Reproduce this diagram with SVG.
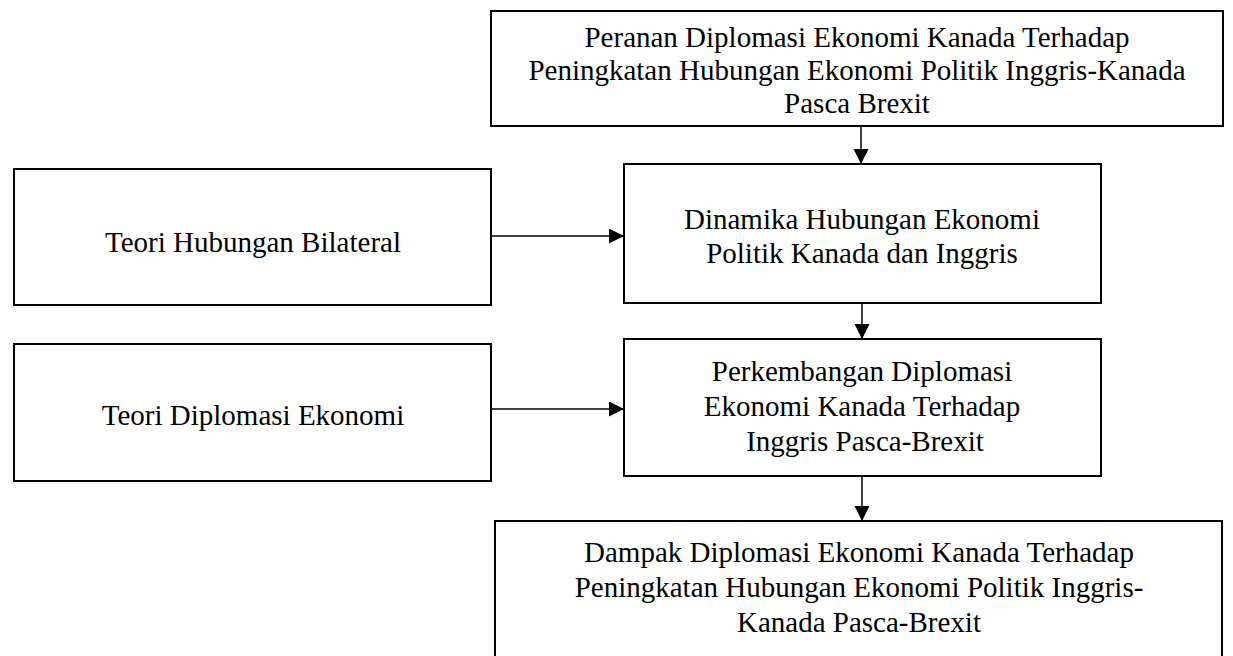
<svg xmlns="http://www.w3.org/2000/svg" width="1233" height="656" viewBox="0 0 1233 656">
<style>
.box{fill:#fff;stroke:#000;stroke-width:2}
.t{font-family:"Liberation Serif","Times New Roman",serif;font-size:29px;fill:#000;text-anchor:middle}
.c{stroke:#000;stroke-width:1.5;fill:none}
</style>
<defs>
<marker id="ah" markerUnits="userSpaceOnUse" markerWidth="16" markerHeight="16" refX="15" refY="7.5" orient="auto">
<path d="M0,0 L15,7.5 L0,15 Z" fill="#000"/>
</marker>
</defs>
<rect width="1233" height="656" fill="#fff"/>
<g id="connectors">
<line class="c" x1="861" y1="126" x2="861" y2="164" marker-end="url(#ah)"/>
<line class="c" x1="491" y1="236" x2="624" y2="236" marker-end="url(#ah)"/>
<line class="c" x1="862" y1="303" x2="862" y2="339" marker-end="url(#ah)"/>
<line class="c" x1="491" y1="409" x2="624" y2="409" marker-end="url(#ah)"/>
<line class="c" x1="862" y1="476" x2="862" y2="521" marker-end="url(#ah)"/>
</g>
<g id="node-peranan">
<rect class="box" x="491" y="11" width="732" height="115"/>
<text class="t" x="857" y="47">Peranan Diplomasi Ekonomi Kanada Terhadap</text>
<text class="t" x="857" y="80">Peningkatan Hubungan Ekonomi Politik Inggris-Kanada</text>
<text class="t" x="857" y="113">Pasca Brexit</text>
</g>
<g id="node-bilateral">
<rect class="box" x="14" y="169" width="477" height="136"/>
<text class="t" x="253" y="252">Teori Hubungan Bilateral</text>
</g>
<g id="node-dinamika">
<rect class="box" x="624" y="164" width="477" height="139"/>
<text class="t" x="862" y="229">Dinamika Hubungan Ekonomi</text>
<text class="t" x="862" y="263">Politik Kanada dan Inggris</text>
</g>
<g id="node-diplomasi">
<rect class="box" x="14" y="344" width="477" height="137"/>
<text class="t" x="253" y="425">Teori Diplomasi Ekonomi</text>
</g>
<g id="node-perkembangan">
<rect class="box" x="624" y="339" width="477" height="137"/>
<text class="t" x="862" y="381">Perkembangan Diplomasi</text>
<text class="t" x="862" y="416">Ekonomi Kanada Terhadap</text>
<text class="t" x="865" y="451">Inggris Pasca-Brexit</text>
</g>
<g id="node-dampak">
<rect class="box" x="495" y="521" width="727" height="145"/>
<text class="t" x="859" y="562">Dampak Diplomasi Ekonomi Kanada Terhadap</text>
<text class="t" x="859" y="597">Peningkatan Hubungan Ekonomi Politik Inggris-</text>
<text class="t" x="859" y="632">Kanada Pasca-Brexit</text>
</g>
</svg>
